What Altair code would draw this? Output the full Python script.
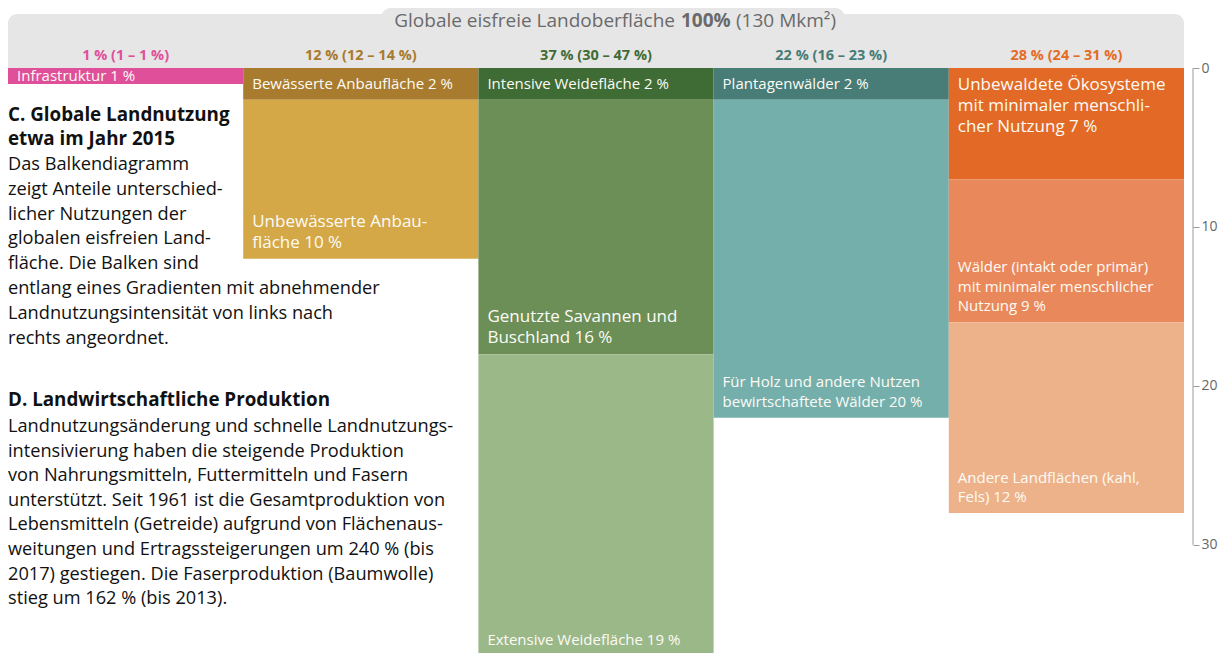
import altair as alt
import pandas as pd

# ---------------- data ----------------
columns = ["Infrastruktur", "Anbau", "Weide", "Forst", "Natur"]
column_labels = [
    "1 % (1 – 1 %)",
    "12 % (12 – 14 %)",
    "37 % (30 – 47 %)",
    "22 % (16 – 23 %)",
    "28 % (24 – 31 %)",
]
column_colors = ["#e0509a", "#a87a2e", "#3f6b34", "#477c77", "#e56b25"]

segment_column = ["Infrastruktur", "Anbau", "Anbau", "Weide", "Weide", "Weide",
                  "Forst", "Forst", "Natur", "Natur", "Natur"]
segment_values = [1, 2, 10, 2, 16, 19, 2, 20, 7, 9, 12]
segment_labels = [
    "Infrastruktur 1 %",
    "Bewässerte Anbaufläche 2 %",
    "Unbewässerte Anbau-\nfläche 10 %",
    "Intensive Weidefläche 2 %",
    "Genutzte Savannen und\nBuschland 16 %",
    "Extensive Weidefläche 19 %",
    "Plantagenwälder 2 %",
    "Für Holz und andere Nutzen\nbewirtschaftete Wälder 20 %",
    "Unbewaldete Ökosysteme\nmit minimaler menschli-\ncher Nutzung 7 %",
    "Wälder (intakt oder primär)\nmit minimaler menschlicher\nNutzung 9 %",
    "Andere Landflächen (kahl,\nFels) 12 %",
]
segment_colors = ["#e0509a", "#a97b2e", "#d4a847", "#3f6b34", "#6b8f57", "#9bb889",
                  "#477c77", "#75afac", "#e26a26", "#e9895b", "#edb28a"]

axis_ticks = [0, 10, 20, 30]

title_parts = ["Globale eisfreie Landoberfläche", "100%", "(130 Mkm²)"]
text_c_title = "C. Globale Landnutzung\netwa im Jahr 2015"
text_c_body = ("Das Balkendiagramm\nzeigt Anteile unterschied-\nlicher Nutzungen der\n"
               "globalen eisfreien Land-\nfläche. Die Balken sind\n"
               "entlang eines Gradienten mit abnehmender\n"
               "Landnutzungsintensität von links nach\nrechts angeordnet.")
text_d_title = "D. Landwirtschaftliche Produktion"
text_d_body = ("Landnutzungsänderung und schnelle Landnutzungs-\n"
               "intensivierung haben die steigende Produktion\n"
               "von Nahrungsmitteln, Futtermitteln und Fasern\n"
               "unterstützt. Seit 1961 ist die Gesamtproduktion von\n"
               "Lebensmitteln (Getreide) aufgrund von Flächenaus-\n"
               "weitungen und Ertragssteigerungen um 240 % (bis\n"
               "2017) gestiegen. Die Faserproduktion (Baumwolle)\n"
               "stieg um 162 % (bis 2013).")

# style config (which labels sit at top / are larger)
TOP_LABELS = {segment_labels[8]}
LARGE_LABELS = {segment_labels[2], segment_labels[4], segment_labels[8]}

# ---------------- tables ----------------
seg = pd.DataFrame({"col": segment_column, "value": segment_values,
                    "label": segment_labels})
seg["end"] = seg.groupby("col")["value"].cumsum()
seg["start"] = seg["end"] - seg["value"]
seg["mid"] = (seg["start"] + seg["end"]) / 2
seg["pos"] = ["mid" if v <= 2 else ("top" if l in TOP_LABELS else "bottom")
              for v, l in zip(seg["value"], seg["label"])]
seg["big"] = [l in LARGE_LABELS for l in seg["label"]]
seg["nlines"] = [l.count("\n") + 1 for l in seg["label"]]

cols = pd.DataFrame({"col": columns, "clabel": column_labels})
axis_df = pd.DataFrame({"a": [axis_ticks[0]], "b": [axis_ticks[-1]]})
one = pd.DataFrame({"k": [0]})

FONT = "Open Sans"
W, H = 1176, 585
SMALL, SMALL_LH = 15, 19.5
BIG, BIG_LH = 17, 21

xs = alt.Scale(domain=columns, paddingInner=0, paddingOuter=0)
ys = alt.Scale(domain=[0, 36.8], reverse=True, nice=False, zero=False)
yaxis = alt.Axis(orient="right", values=axis_ticks, domain=False, grid=False,
                 tickSize=6, offset=9, labelFontSize=14, labelFont=FONT,
                 tickColor="#9a9a9a", labelColor="#666666", labelPadding=2,
                 tickWidth=1, title=None)

base = alt.Chart(seg)

# header
head_main = alt.Chart(one).mark_rect(color="#e6e6e6", cornerRadiusTopLeft=9,
                                     cornerRadiusTopRight=9).encode(
    x=alt.value(0), x2=alt.value(W), y=alt.value(-54), y2=alt.value(0))
head_tab = alt.Chart(one).mark_rect(color="#e6e6e6", cornerRadiusTopLeft=14,
                                    cornerRadiusTopRight=14).encode(
    x=alt.value(373), x2=alt.value(837), y=alt.value(-60), y2=alt.value(-40))
t1 = alt.Chart(one).mark_text(text=title_parts[0], align="right", baseline="alphabetic",
                              font=FONT, fontSize=19, color="#6a6a6a").encode(
    x=alt.value(667), y=alt.value(-41))
t2 = alt.Chart(one).mark_text(text=title_parts[1], align="left", baseline="alphabetic",
                              font=FONT, fontSize=19, fontWeight="bold", color="#6a6a6a").encode(
    x=alt.value(673), y=alt.value(-41))
t3 = alt.Chart(one).mark_text(text=title_parts[2], align="left", baseline="alphabetic",
                              font=FONT, fontSize=19, color="#6a6a6a").encode(
    x=alt.value(728), y=alt.value(-41))

col_text = alt.Chart(cols).mark_text(font=FONT, fontSize=14.5, fontWeight="bold",
                                     baseline="middle").encode(
    x=alt.X("col:N", scale=xs, axis=None, sort=columns),
    y=alt.value(-12),
    text="clabel:N",
    color=alt.Color("col:N", scale=alt.Scale(domain=columns, range=column_colors),
                    legend=None),
)

bars = base.mark_bar(strokeWidth=0).encode(
    x=alt.X("col:N", scale=xs, axis=None, sort=columns),
    y=alt.Y("start:Q", scale=ys, axis=yaxis),
    y2="end:Q",
    fill=alt.Fill("label:N", scale=alt.Scale(domain=segment_labels, range=segment_colors),
                  legend=None),
)


def lbl(flt, field, baseline, dy, size, lh):
    return base.transform_filter(flt).mark_text(
        font=FONT, align="left", baseline=baseline, dx=9, dy=dy, lineBreak="\n",
        lineHeight=lh, fontSize=size, color="#fdfbf5").encode(
        x=alt.X("col:N", scale=xs, axis=None, sort=columns, bandPosition=0),
        y=alt.Y(f"{field}:Q", scale=ys, axis=yaxis),
        text="label:N",
    )


lab_layers = []
for big, size, lh in ((False, SMALL, SMALL_LH), (True, BIG, BIG_LH)):
    isbig = alt.datum.big if big else ~alt.datum.big
    lab_layers.append(lbl((alt.datum.pos == "mid") & isbig, "mid", "middle", 0, size, lh))
    lab_layers.append(lbl((alt.datum.pos == "top") & isbig, "start", "alphabetic", 22,
                          size, lh))
    for n in (1, 2, 3):
        lab_layers.append(
            lbl((alt.datum.pos == "bottom") & (alt.datum.nlines == n) & isbig, "end",
                "alphabetic", -11 - (n - 1) * lh, size, lh))

axis_line = alt.Chart(axis_df).mark_rule(color="#9a9a9a", strokeWidth=1).encode(
    y=alt.Y("a:Q", scale=ys, axis=yaxis), y2="b:Q", x=alt.value(W + 9))


def block(text, y, weight="normal", lh=25, size=18.2):
    return alt.Chart(one).mark_text(text=text, align="left", baseline="alphabetic",
                                    lineBreak="\n", lineHeight=lh, font=FONT,
                                    fontSize=size, fontWeight=weight,
                                    color="#111111").encode(
        x=alt.value(0), y=alt.value(y))


c_title = block(text_c_title, 53, "bold", 24, 18.8)
c_body = block(text_c_body, 102, lh=24.8)
d_title = block(text_d_title, 338, "bold", 24, 18.8)
d_body = block(text_d_body, 364, lh=24.6)

chart = alt.layer(
    head_main, head_tab, t1, t2, t3, col_text,
    bars, *lab_layers, axis_line,
    c_title, c_body, d_title, d_body,
).resolve_scale(color="independent").properties(
    width=W, height=H, autosize="none",
    padding={"top": 60, "left": 0, "right": 35, "bottom": 0},
).configure_view(strokeWidth=0)

chart.save("out.html", embed_options={"renderer": "svg", "actions": False})
